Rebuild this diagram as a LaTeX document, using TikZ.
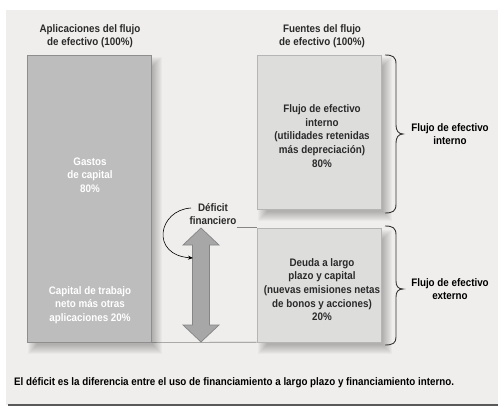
\documentclass[tikz,border=0pt]{standalone}
\usepackage{fontspec}
\setmainfont[FakeStretch=0.9]{Liberation Sans}
\usetikzlibrary{arrows.meta}
\definecolor{bgc}{HTML}{EFEEEC}
\definecolor{leftfill}{HTML}{BDBDBD}
\definecolor{leftdraw}{HTML}{8E8E8E}
\definecolor{rightfill}{HTML}{DDDDDC}
\definecolor{rightdraw}{HTML}{B5B5B5}
\definecolor{arrfill}{HTML}{A7A7A7}
\definecolor{arrdraw}{HTML}{858585}
\definecolor{txt}{HTML}{2A2A2A}
\newcommand\myshadow[4]{%
  \foreach \r in {0,...,9}{%
    \fill[black,opacity=0.028] ({#1+6+\r-5},{#2+7+\r-5}) rectangle ({#3+6-\r+5},{#4+7-\r+5});}}
\tikzset{
  lbl/.style={font=\bfseries\fontsize{10.9}{13.6}\selectfont, align=center, text=txt, inner sep=0pt},
  whitelbl/.style={lbl, text=white},
  leftbox/.style={draw=leftdraw, fill=leftfill, line width=0.8pt, minimum width=124pt, inner sep=0pt},
  rightbox/.style={draw=rightdraw, fill=rightfill, line width=0.6pt, minimum width=124pt, inner sep=0pt},
  levelline/.style={draw=arrdraw, line width=0.7pt},
  bracestyle/.style={draw=black!80, line width=0.9pt}
}
\begin{document}
\begin{tikzpicture}[x=1pt,y=-1pt]
\useasboundingbox (0,0) rectangle (498,407);
\fill[white] (0,0) rectangle (498,407);
\fill[bgc] (6,10) rectangle (498,405);
\draw[black!65, line width=1.6pt] (8,405) -- (498,405);

% shadows
\myshadow{27}{55}{151}{342}
\myshadow{257}{55}{381}{209}
\myshadow{257}{228}{381}{342}

% boxes
\node[leftbox, minimum height=287pt] (lb) at (89,198.5) {};
\node[rightbox, minimum height=154pt] (rt) at (319,132) {};
\node[rightbox, minimum height=114pt] (rb) at (319,285) {};

% titles
\node[lbl] (lt) at (90,36) {Aplicaciones del flujo\\de efectivo (100\%)};
\node[lbl] (rtt) at (322,36) {Fuentes del flujo\\de efectivo (100\%)};

% box texts
\node[whitelbl] (g) at (90,175) {Gastos\\de capital\\80\%};
\node[whitelbl] (c) at (90,305) {Capital de trabajo\\neto más otras\\aplicaciones 20\%};
\node[lbl] (fi) at (322,136) {Flujo de efectivo\\interno\\(utilidades retenidas\\más depreciación)\\80\%};
\node[lbl] (dl) at (322,289.5) {Deuda a largo\\plazo y capital\\(nuevas emisiones netas\\de bonos y acciones)\\20\%};

% deficit label
\node[lbl] (def) at (213,214) {Déficit\\financiero};

% level lines
\draw[levelline] (def.east |- rb.north west) -- (rb.north west);
\draw[levelline] (lb.south east) -- (rb.south west);

% double arrow
\coordinate (atop) at (201,228);
\coordinate (abot) at (201,342);
\filldraw[fill=arrfill, draw=arrdraw, line width=0.7pt, line join=miter]
  (atop) -- (219,245) -- (209.5,245) -- (209.5,325) -- (219,325) -- (abot)
  -- (183,325) -- (192.5,325) -- (192.5,245) -- (183,245) -- cycle;

% curved arrow
\coordinate (cs) at (191,208);
\coordinate (ce) at (193,258);
\draw[black, line width=0.6pt, -{Stealth[length=5pt,width=4pt]}]
  (cs) .. controls (158,210) and (150,255) .. (ce);

% braces
\draw[bracestyle] (385,55) .. controls (393,55) and (396,57) .. (396,64)
  -- (396,125) .. controls (396,130) and (398,134) .. (403,134)
  .. controls (398,134) and (396,138) .. (396,143)
  -- (396,204) .. controls (396,211) and (393,213) .. (385,213);
\draw[bracestyle] (385,226) .. controls (393,226) and (396,228) .. (396,235)
  -- (396,281) .. controls (396,286) and (398,289) .. (403,289)
  .. controls (398,289) and (396,292) .. (396,297)
  -- (396,337) .. controls (396,343) and (393,345) .. (385,345);

\node[lbl, text=black] (fie) at (450,134) {Flujo de efectivo\\interno};
\node[lbl, text=black] (fee) at (450,289) {Flujo de efectivo\\externo};

% caption
\node[lbl, text=black, anchor=west] (cap) at (14,383) {El déficit es la diferencia entre el uso de financiamiento a largo plazo y financiamiento interno.};
\end{tikzpicture}
\end{document}
